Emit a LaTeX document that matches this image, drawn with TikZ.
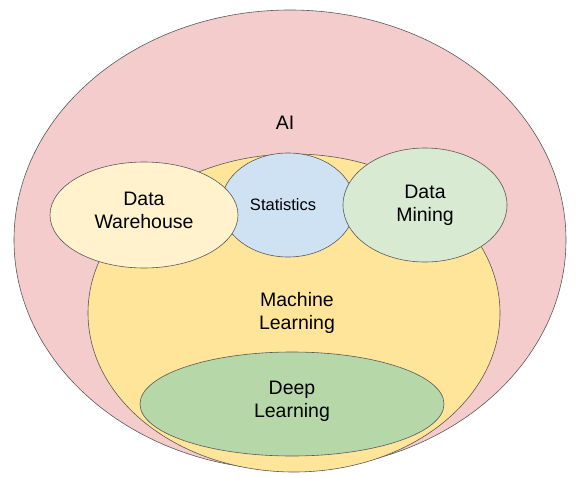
\documentclass[tikz,border=0pt]{standalone}
\usepackage{fontspec}
\setmainfont{Liberation Sans}
\definecolor{aipink}{HTML}{F4CCCC}
\definecolor{mlyellow}{HTML}{FFE599}
\definecolor{dwcream}{HTML}{FFF2CC}
\definecolor{statblue}{HTML}{CFE2F3}
\definecolor{dmgreen}{HTML}{D9EAD3}
\definecolor{dlgreen}{HTML}{B6D7A8}
\definecolor{edgegray}{HTML}{595959}
\begin{document}
\begin{tikzpicture}[x=1pt, y=-1pt,
    set/.style = {draw = edgegray, line width = 0.6pt},
    lbl/.style = {align = center, font = \fontsize{19.5}{23}\selectfont}]
    \useasboundingbox (0,0) rectangle (581,479);

    % Outer sets
    \draw [set, fill = aipink] (290, 240) ellipse [x radius = 276pt, y radius = 230pt];
    \draw [set, fill = mlyellow] (294, 313) ellipse [x radius = 206pt, y radius = 159pt];
    \draw [set, fill = dlgreen] (292, 404) ellipse [x radius = 152pt, y radius = 52pt];

    % Overlapping fields on top
    \draw [set, fill = statblue] (288, 205) ellipse [x radius = 67pt, y radius = 52pt];
    \draw [set, fill = dwcream] (144, 215) ellipse [x radius = 94pt, y radius = 53pt];
    \draw [set, fill = dmgreen] (425, 205) ellipse [x radius = 82pt, y radius = 57pt];

    % Set names
    \node [lbl] (AI) at (285, 123) {AI};
    \node [lbl] (ML) at (297, 313) {Machine\\Learning};
    \node [lbl] (DL) at (292, 401) {Deep\\Learning};
    \node [lbl] (DW) at (144, 210) {Data\\Warehouse};
    \node [lbl, font = \fontsize{16.5}{20}\selectfont] (Stats) at (283, 205) {Statistics};
    \node [lbl] (DM) at (425, 205) {Data\\Mining};

\end{tikzpicture}
\end{document}
